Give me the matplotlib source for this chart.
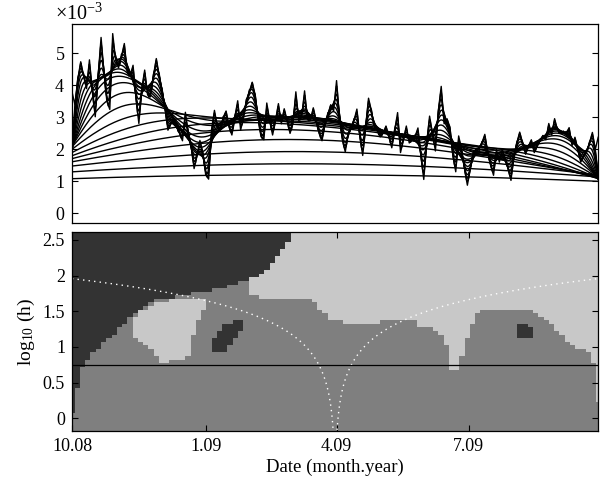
"""
Multi-scale smoothing of a daily series (top) and its significance map (bottom).
The smoothed curves are Gaussian kernel sums with zero padding at the ends.
"""

import numpy as np
import matplotlib.pyplot as plt
from matplotlib.colors import ListedColormap
from matplotlib.path import Path
from matplotlib.ticker import ScalarFormatter

plt.rcParams['font.family'] = ['Liberation Serif', 'DejaVu Serif']
plt.rcParams['mathtext.fontset'] = 'custom'
plt.rcParams['mathtext.rm'] = 'Liberation Serif'
plt.rcParams['mathtext.it'] = 'Liberation Serif:italic'

# Raw series, one value every 2 days starting 1 Oct 2008 (units of 1e-3)
STEP = 2
values = [
    3.8, 3.4, 4.2, 4.74, 4.3, 3.9, 4.8, 3.8, 3.02, 4.3,
    5.5, 4.4, 3.5, 3.25, 5.62, 4.8, 4.55, 4.9, 5.31, 4.4,
    4.3, 4.63, 3.6, 2.81, 3.9, 4.48, 3.7, 3.64, 4.3, 4.84,
    4.3, 3.85, 3.3, 2.6, 2.8, 2.95, 2.7, 2.5, 2.27, 3.16,
    2.5, 2.1, 1.4, 1.8, 2.28, 1.9, 1.2, 1.07, 2.6, 3.22,
    2.7, 2.6, 3.0, 3.2, 2.7, 2.45, 3.0, 3.52, 2.6, 3.0,
    3.55, 3.8, 4.1, 3.7, 3.0, 2.4, 2.3, 3.45, 2.9, 2.45,
    2.9, 3.43, 2.8, 3.27, 2.9, 2.5, 2.8, 3.8, 2.9, 3.0,
    3.83, 2.93, 2.9, 3.3, 2.9, 2.5, 2.27, 2.8, 3.1, 3.39,
    3.2, 4.15, 3.0, 2.3, 1.92, 2.5, 2.7, 2.9, 3.26, 2.4,
    1.81, 2.7, 3.6, 3.2, 2.7, 2.6, 2.39, 2.5, 2.73, 2.4,
    2.05, 2.6, 3.15, 1.9, 2.3, 2.73, 2.2, 2.3, 2.4, 2.67,
    1.8, 1.06, 2.2, 3.04, 2.5, 1.95, 3.2, 3.97, 2.8, 2.95,
    2.7, 1.8, 1.3, 2.42, 2.0, 1.4, 0.88, 1.4, 1.9, 2.0,
    2.0, 2.2, 2.47, 1.9, 1.5, 1.19, 2.0, 1.6, 2.0, 1.7,
    1.4, 1.03, 1.8, 2.2, 2.54, 2.2, 1.85, 2.1, 2.3, 1.9,
    2.1, 2.3, 2.43, 2.3, 2.81, 2.45, 2.96, 2.6, 2.5, 2.55,
    2.5, 2.68, 2.12, 2.38, 2.0, 1.6, 1.8, 1.9, 2.2, 2.53,
    2.0, 2.38,
]

# Bandwidths (days), log-spaced
log_h = np.linspace(0, 2.5, 21)
h_line = 0.74  # chosen bandwidth, log10 scale

# Date ticks (days since 1 Oct 2008)
tick_days = [0, 92, 182, 273]
tick_labels = ['10.08', '1.09', '4.09', '7.09']
T_END = 362

# Map regions as (day, log10 h) outlines
dark_corner = [(-5, 0.0), (0.5, 0.07), (1.8, 0.26), (4.1, 0.49), (6.4, 0.68), (8.7, 0.79),
               (15.6, 0.93), (24.8, 1.12), (34, 1.28), (43.1, 1.47), (52.3, 1.59),
               (58.3, 1.66), (77.8, 1.73), (95, 1.80), (111, 1.87), (129, 1.99),
               (134, 2.1), (145.4, 2.38), (150, 2.52), (152.3, 2.62), (153, 2.8), (-5, 2.8)]
dark_blob_1 = [(97.2, 0.91), (97.2, 1.12), (101.9, 1.26), (108.7, 1.35), (114.5, 1.39),
               (117.5, 1.33), (114.5, 1.17), (108.7, 1.02), (103, 0.91), (99.6, 0.89)]
dark_blob_2 = [(306, 1.24), (308.3, 1.33), (311.8, 1.31), (315.2, 1.26), (316.4, 1.17),
               (312.9, 1.10), (308.3, 1.12), (306.6, 1.17)]
light_left = [(42.5, 1.12), (42.5, 1.42), (46.8, 1.50), (52.3, 1.57), (58.3, 1.63),
              (77.8, 1.67), (92.7, 1.68), (93.5, 1.62), (90.4, 1.5), (86, 1.35),
              (82.4, 1.14), (80, 0.91), (79.5, 0.84), (66.3, 0.84), (66, 0.77),
              (60.6, 0.77), (59.4, 0.84), (56, 0.96), (51.4, 1.02), (46.8, 1.08)]
light_right = [(121.3, 1.71), (121.3, 2.8), (370, 2.8), (370, -0.3), (363.5, -0.3),
               (362.7, 0.09), (361, 0.47), (358.8, 0.75), (354.2, 0.93), (342.7, 1.03),
               (335.9, 1.17), (329, 1.35), (322.1, 1.45), (315.2, 1.52), (280.8, 1.52),
               (277.4, 1.42), (273.9, 1.26), (270.5, 1.07), (267, 0.84), (265.9, 0.70),
               (260.2, 0.70), (259, 0.84), (256.7, 1.03), (253.3, 1.17), (248.7, 1.26),
               (236.1, 1.31), (236.1, 1.38), (212, 1.38), (212, 1.31), (198.2, 1.31),
               (177.6, 1.38), (171.9, 1.52), (167.2, 1.59), (166, 1.65), (156.9, 1.66)]

MAP_COLOURS = ['#333333', '#7f7f7f', '#c8c8c8']
FS = 13


def smooth(t_eval, t, y, h):
    """ Gaussian kernel sum (trapezoid weights), zero outside the data range."""
    w = np.full(len(t), float(STEP))
    w[0] = w[-1] = STEP / 2
    k = np.exp(-0.5 * ((t_eval[:, None] - t[None, :]) / h) ** 2) / (h * np.sqrt(2 * np.pi))
    return k @ (w * y)


def style_axes(ax):
    ax.tick_params(direction='in', length=4, width=0.8, labelsize=FS,
                   left=True, right=True, pad=5)
    for s in ax.spines.values():
        s.set_linewidth(0.9)


def main():
    t = np.arange(len(values)) * STEP
    y = np.array(values) * 1e-3
    t_eval = np.arange(0, T_END + 0.25, 0.5)

    fig = plt.figure(figsize=(6, 4.9), dpi=100)
    ax1 = fig.add_axes([0.12, 0.545, 0.877, 0.406])
    ax2 = fig.add_axes([0.12, 0.1204, 0.877, 0.4061])

    # Top: raw series plus the family of smoothed curves
    ax1.plot(t, y, color='black', lw=1.0)
    for lh in log_h:
        ax1.plot(t_eval, smooth(t_eval, t, y, 10 ** lh), color='black', lw=1.0)
    ax1.set_xlim(0, T_END)
    ax1.set_ylim(-0.3e-3, 5.92e-3)
    ax1.set_yticks(np.arange(0, 6) * 1e-3)
    fmt = ScalarFormatter(useMathText=True)
    fmt.set_powerlimits((-2, 2))
    ax1.yaxis.set_major_formatter(fmt)
    ax1.yaxis.get_offset_text().set_fontsize(14.5)
    ax1.yaxis.get_offset_text().set_x(-0.033)
    style_axes(ax1)
    ax1.tick_params(axis='x', bottom=False, labelbottom=False)

    # Bottom: significance map on a coarse grid
    t_cells = np.linspace(0, T_END, 101)
    h_cells = np.arange(-0.15, 2.61, 0.05)
    tt, hh = np.meshgrid(t_cells, h_cells)
    pts = np.column_stack([tt.ravel(), hh.ravel()])
    cls = np.ones(tt.shape)
    for poly in [light_left, light_right]:
        cls[Path(poly).contains_points(pts).reshape(tt.shape)] = 2
    for poly in [dark_corner, dark_blob_1, dark_blob_2]:
        cls[Path(poly).contains_points(pts).reshape(tt.shape)] = 0
    dt = t_cells[1] - t_cells[0]
    ax2.imshow(cls, origin='lower', aspect='auto', interpolation='nearest',
               cmap=ListedColormap(MAP_COLOURS), vmin=0, vmax=2,
               extent=[-dt / 2, T_END + dt / 2, h_cells[0] - 0.025, h_cells[-1] + 0.025])

    # Dotted guide: h equal to half the distance from the middle of the record
    mid = T_END / 2
    left = np.linspace(0, mid - 0.05, 800)
    right = np.linspace(mid + 0.05, T_END, 800)
    for part in (left, right):
        ax2.plot(part, np.log10(np.abs(part - mid) / 2), color='white', lw=1.0,
                 linestyle=(0, (1, 3)))
    ax2.axhline(h_line, color='black', lw=0.9)

    ax2.set_xlim(0, T_END)
    ax2.set_ylim(-0.18, 2.61)
    ax2.set_yticks([0, 0.5, 1, 1.5, 2, 2.5])
    ax2.set_yticklabels(['0', '0.5', '1', '1.5', '2', '2.5'])
    ax2.set_xticks(tick_days)
    ax2.set_xticklabels(tick_labels)
    style_axes(ax2)
    ax2.tick_params(axis='x', top=True)
    ax2.set_xlabel('Date (month.year)', fontsize=FS + 0.5, labelpad=3)
    ax2.set_ylabel(r'$\mathregular{log_{10}}$ (h)', fontsize=FS + 1, labelpad=4)

    fig.savefig('out.png', dpi=100)


main()
